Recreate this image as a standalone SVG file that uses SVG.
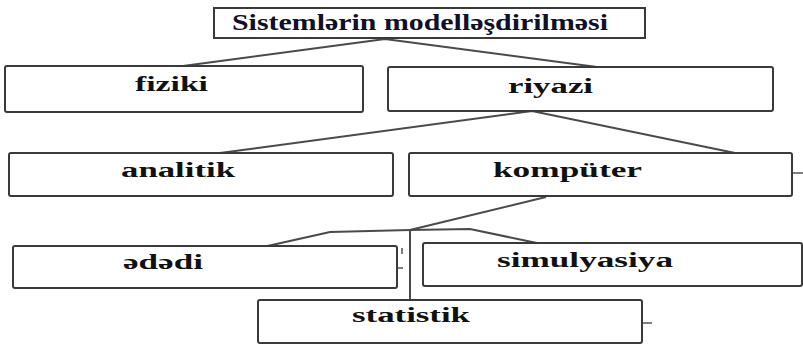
<svg xmlns="http://www.w3.org/2000/svg" width="803" height="345" viewBox="0 0 803 345">
<style>
.box{fill:#fff;stroke:#3a3a3a;stroke-width:2}
.t{font-family:"Liberation Serif","Times New Roman",serif;font-weight:bold;font-size:20px;fill:#111}
.c{fill:none;stroke:#4a4a4a;stroke-width:2}
.tk{fill:none;stroke:#555;stroke-width:1.5}
</style>
<rect width="803" height="345" fill="#fff"/>
<g id="connectors">
<polyline class="c" points="183,66 385,39 597,67"/>
<polyline class="c" points="220,153 532,111 735,153"/>
<polyline class="c" points="546,197 410,230"/>
<polyline class="c" points="263,247 330,232 410,230 470,229 537,243"/>
<line class="c" x1="410" y1="230" x2="410" y2="300"/>
<line class="tk" x1="792" y1="173" x2="803" y2="173"/>
<line class="tk" x1="642" y1="323" x2="652" y2="323"/>
<line class="tk" x1="402" y1="248" x2="402" y2="254"/>
<line class="tk" x1="397" y1="268" x2="403" y2="268"/>
</g>
<g id="title">
<rect class="box" x="214" y="8" width="431" height="30"/>
<text class="t" x="420" y="30" text-anchor="middle" textLength="376" lengthAdjust="spacingAndGlyphs" style="font-size:24px;fill:#10102a">Sistemlərin modelləşdirilməsi</text>
</g>
<g id="fiziki">
<rect class="box" x="5" y="66" width="358" height="46" rx="2"/>
<text class="t" x="171.5" y="91" text-anchor="middle" textLength="73" lengthAdjust="spacingAndGlyphs">fiziki</text>
</g>
<g id="riyazi">
<rect class="box" x="388" y="67" width="385" height="44" rx="2"/>
<text class="t" x="550.5" y="93" text-anchor="middle" textLength="85" lengthAdjust="spacingAndGlyphs">riyazi</text>
</g>
<g id="analitik">
<rect class="box" x="9" y="153" width="384" height="43" rx="2"/>
<text class="t" x="178" y="177" text-anchor="middle" textLength="114" lengthAdjust="spacingAndGlyphs">analitik</text>
</g>
<g id="kompyuter">
<rect class="box" x="409" y="153" width="383" height="43" rx="2"/>
<text class="t" x="567.5" y="177" text-anchor="middle" textLength="149" lengthAdjust="spacingAndGlyphs">kompüter</text>
</g>
<g id="ededi">
<rect class="box" x="13" y="246" width="384" height="42" rx="2"/>
<text class="t" x="163" y="269" text-anchor="middle" textLength="80" lengthAdjust="spacingAndGlyphs">ədədi</text>
</g>
<g id="simulyasiya">
<rect class="box" x="423" y="243" width="379" height="43" rx="2"/>
<text class="t" x="585" y="267" text-anchor="middle" textLength="176" lengthAdjust="spacingAndGlyphs">simulyasiya</text>
</g>
<g id="statistik">
<rect class="box" x="258" y="300" width="384" height="43" rx="2"/>
<text class="t" x="411" y="322" text-anchor="middle" textLength="118" lengthAdjust="spacingAndGlyphs">statistik</text>
</g>
</svg>
